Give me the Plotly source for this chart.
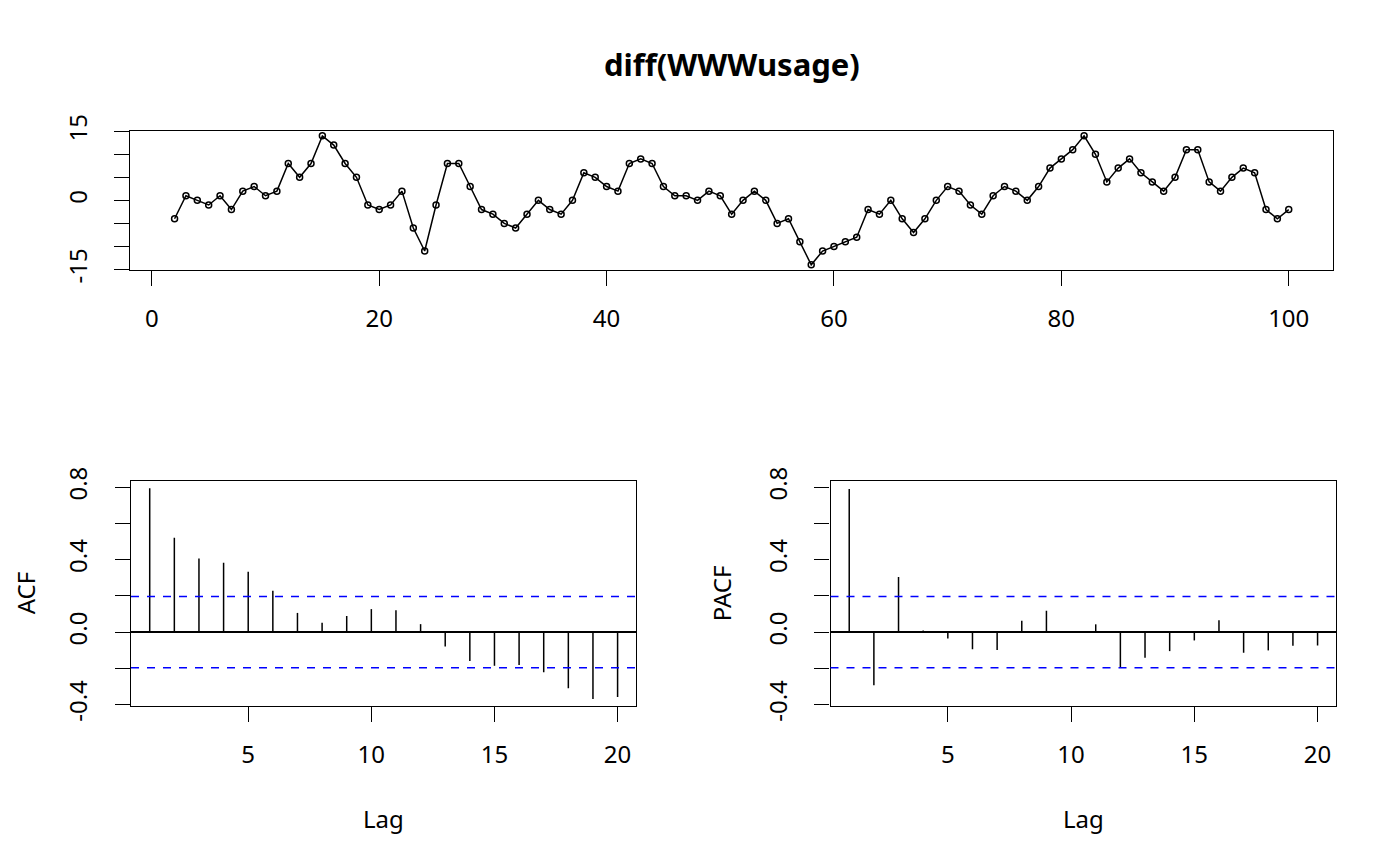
import numpy as np
import plotly.graph_objects as go

# -----------------------------
# Data: diff(WWWusage), ACF, PACF
# -----------------------------
time_index = list(range(2, 101))
diff_values = [
    -4, 1, 0, -1, 1, -2, 2, 3, 1, 2, 8, 5, 8, 14, 12, 8, 5, -1, -2, -1,
    2, -6, -11, -1, 8, 8, 3, -2, -3, -5, -6, -3, 0, -2, -3, 0, 6, 5, 3, 2,
    8, 9, 8, 3, 1, 1, 0, 2, 1, -3, 0, 2, 0, -5, -4, -9, -14, -11, -10, -9,
    -8, -2, -3, 0, -4, -7, -4, 0, 3, 2, -1, -3, 1, 3, 2, 0, 3, 7, 9, 11,
    14, 10, 4, 7, 9, 6, 4, 2, 5, 11, 11, 4, 2, 5, 7, 6, -2, -4, -2,
]

lags = list(range(1, 21))
acf_values = [
    0.794, 0.521, 0.407, 0.383, 0.333, 0.228, 0.106, 0.051, 0.089, 0.127,
    0.121, 0.044, -0.079, -0.160, -0.186, -0.181, -0.221, -0.310, -0.369, -0.358,
]
pacf_values = [
    0.790, -0.293, 0.304, 0.009, -0.035, -0.094, -0.099, 0.063, 0.118, 0.003,
    0.043, -0.195, -0.142, -0.105, -0.046, 0.065, -0.114, -0.101, -0.076, -0.074,
]

top_yticks = [-15, -10, -5, 0, 5, 10, 15]
top_ylabels = ["-15", "", "", "0", "", "", "15"]
top_xticks = [0, 20, 40, 60, 80, 100]
cf_yticks = [-0.4, -0.2, 0.0, 0.2, 0.4, 0.6, 0.8]
cf_ylabels = ["-0.4", "", "0.0", "", "0.4", "", "0.8"]
cf_xticks = [5, 10, 15, 20]

ci_bound = 1.96 / np.sqrt(len(diff_values))

# page has an 8px body margin, so the figure is a bit smaller than the window
OFF = 8
W, H = 1400 - 2 * OFF, 866 - 2 * OFF
FONT = "Noto Sans"


def px_x(p):
    return (p - OFF) / W


def px_y(p):
    return 1 - (p - OFF) / H


def stems(xs, ys):
    sx, sy = [], []
    for x, y in zip(xs, ys):
        sx += [x, x, None]
        sy += [0, y, None]
    return sx, sy


fig = go.Figure()

# top: time series with points
fig.add_trace(go.Scatter(
    x=time_index, y=diff_values, mode="lines+markers",
    line=dict(color="black", width=1.5),
    marker=dict(symbol="circle-open", size=6, color="black", line=dict(width=1.5)),
    xaxis="x", yaxis="y", showlegend=False, hoverinfo="x+y",
))

# ACF / PACF stems
for vals, ax in [(acf_values, "2"), (pacf_values, "3")]:
    sx, sy = stems(lags, vals)
    fig.add_trace(go.Scatter(
        x=sx, y=sy, mode="lines", line=dict(color="black", width=1.5),
        xaxis="x" + ax, yaxis="y" + ax, showlegend=False, hoverinfo="skip",
    ))

axis_common = dict(
    showline=True, linecolor="black", linewidth=1.2, mirror=True,
    ticks="outside", ticklen=15, tickwidth=1.2, tickcolor="black",
    showgrid=False, zeroline=False, automargin=False,
    tickfont=dict(family=FONT, size=24, color="black"),
)

top_x = [px_x(130), px_x(1333.3)]
top_y = [px_y(270), px_y(130.7)]
bot_y = [px_y(706), px_y(480.7)]
left_x = [px_x(131), px_x(636.3)]
right_x = [px_x(830.5), px_x(1336.3)]

fig.update_layout(
    width=W, height=H,
    margin=dict(l=0, r=0, t=0, b=0),
    paper_bgcolor="white", plot_bgcolor="white",
    font=dict(family=FONT, color="black"),
    xaxis=dict(axis_common, domain=top_x, anchor="y", range=[-1.92, 103.92],
               tickvals=top_xticks, ticklabelstandoff=12),
    yaxis=dict(axis_common, domain=top_y, anchor="x", range=[-15.12, 15.12],
               tickvals=top_yticks, ticktext=top_ylabels, tickangle=-90,
               ticklabelstandoff=17),
    xaxis2=dict(axis_common, domain=left_x, anchor="y2", range=[0.24, 20.76],
                tickvals=cf_xticks, ticklabelstandoff=12),
    yaxis2=dict(axis_common, domain=bot_y, anchor="x2", range=[-0.408, 0.836],
                tickvals=cf_yticks, ticktext=cf_ylabels, tickangle=-90,
                ticklabelstandoff=18,
                zeroline=True, zerolinecolor="black", zerolinewidth=1.5),
    xaxis3=dict(axis_common, domain=right_x, anchor="y3", range=[0.24, 20.76],
                tickvals=cf_xticks, ticklabelstandoff=12),
    yaxis3=dict(axis_common, domain=bot_y, anchor="x3", range=[-0.408, 0.836],
                tickvals=cf_yticks, ticktext=cf_ylabels, tickangle=-90,
                ticklabelstandoff=18,
                zeroline=True, zerolinecolor="black", zerolinewidth=1.5),
)

# confidence bounds
for ax in ["2", "3"]:
    for b in [ci_bound, -ci_bound]:
        fig.add_shape(
            type="line", xref="x" + ax + " domain", yref="y" + ax,
            x0=0, x1=1, y0=b, y1=b,
            line=dict(color="blue", width=1.5, dash="8px,8px"),
        )

# titles
fig.add_annotation(
    text="<b>diff(WWWusage)</b>", xref="paper", yref="paper",
    x=(top_x[0] + top_x[1]) / 2, y=px_y(64), showarrow=False,
    xanchor="center", yanchor="middle",
    font=dict(family=FONT, size=31, color="black"),
)
for label, xc in [("ACF", 25), ("PACF", 721)]:
    fig.add_annotation(
        text=label, xref="paper", yref="paper", x=px_x(xc),
        y=(bot_y[0] + bot_y[1]) / 2, textangle=-90, showarrow=False,
        xanchor="center", yanchor="middle", borderpad=0,
        font=dict(family=FONT, size=24, color="black"),
    )
for dom in [left_x, right_x]:
    fig.add_annotation(
        text="Lag", xref="paper", yref="paper", x=(dom[0] + dom[1]) / 2,
        y=px_y(818), showarrow=False, xanchor="center", yanchor="middle",
        font=dict(family=FONT, size=24, color="black"),
    )

fig.write_html("out.html")
